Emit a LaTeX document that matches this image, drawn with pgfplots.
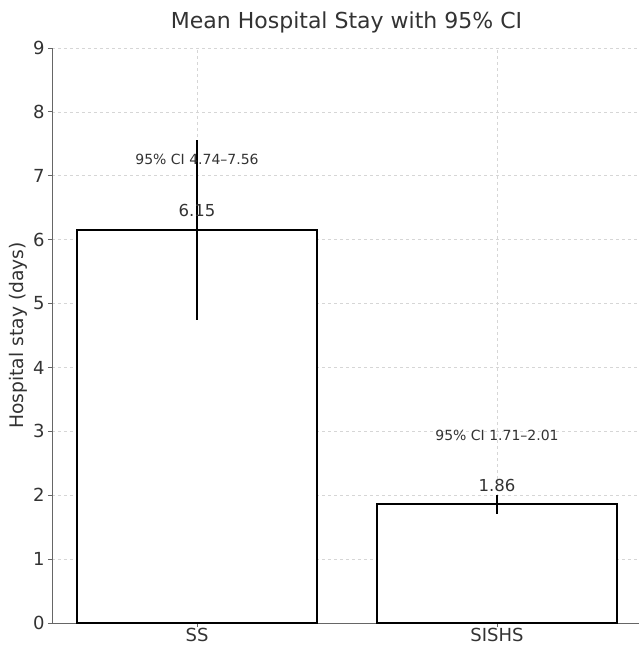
\documentclass[border=0pt]{standalone}
\usepackage{fontspec}
\setmainfont{DejaVu Sans}
\usepackage{pgfplots}
\usepackage{pgfplotstable}
\pgfplotsset{compat=1.18}
\definecolor{txt}{HTML}{333333}
\definecolor{spine}{HTML}{666666}
\definecolor{gridc}{HTML}{D6D6D6}
\pgfplotstableread{
x y ep em
0 6.15 1.41 1.41
1 1.86 0.15 0.15
}\datatable
\begin{document}
\begin{tikzpicture}
\begin{axis}[
  scale only axis, width=590pt, height=575pt,
  xmin=-0.4833, xmax=1.4833, ymin=0, ymax=9,
  axis x line*=bottom, axis y line*=left,
  axis line style={-, draw=spine, line width=0.9pt},
  xtick={0,1}, xticklabels={SS,SISHS},
  ytick={0,1,...,9},
  tick align=outside, major tick length=4pt,
  tick style={draw=spine, line width=0.9pt},
  grid=major, major grid style={dashed, draw=gridc, line width=0.7pt},
  ticklabel style={font=\fontsize{18}{20}\selectfont, text=txt},
  xticklabel style={yshift=2.5pt},
  /pgf/number format/assume math mode=true,
  ylabel={Hospital stay (days)},
  ylabel style={font=\fontsize{18.7}{20}\selectfont, text=txt, at={(axis description cs:-0.0576,0.5)}, anchor=center},
  clip=false,
]
\addplot[ybar, bar width=0.8, fill=white, draw=black, line width=1.6pt,
  error bars/.cd, y dir=both, y explicit, error mark=none,
  error bar style={line width=2.6pt, draw=black}]
  table[x=x, y=y, y error plus=ep, y error minus=em] {\datatable};
\node[font=\fontsize{16.5}{18}\selectfont, text=txt] at (axis cs:0,6.45) {6.15};
\node[font=\fontsize{16.5}{18}\selectfont, text=txt] at (axis cs:1,2.16) {1.86};
\node[font=\fontsize{14}{16}\selectfont, text=txt] at (axis cs:0,7.25) {95\% CI 4.74–7.56};
\node[font=\fontsize{14}{16}\selectfont, text=txt] at (axis cs:1,2.94) {95\% CI 1.71–2.01};
\coordinate (O) at (rel axis cs:0,0);
\end{axis}
\node[font=\fontsize{22}{24}\selectfont, text=txt, anchor=base] at ([shift={(294.5pt,594pt)}]O) {Mean Hospital Stay with 95\% CI};
\pgfresetboundingbox
\path[use as bounding box] ([shift={(-52pt,-22pt)}]O) rectangle ++(639pt,645pt);
\end{tikzpicture}
\end{document}
